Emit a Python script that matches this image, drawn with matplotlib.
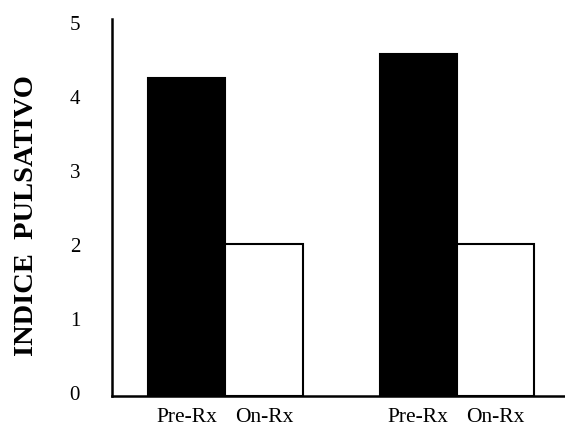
import matplotlib
matplotlib.use("Agg")
from matplotlib import pyplot as plt
from matplotlib import transforms as mtransforms

# datos
grupos = ['Pre-Rx', 'On-Rx', 'Pre-Rx', 'On-Rx']
posiciones = [1, 2, 4, 5]
indice_pulsativo = [4.30, 2.05, 4.62, 2.05]
colores = ['black', 'white', 'black', 'white']
yticks = [0, 1, 2, 3, 4, 5]

plt.rcParams['font.family'] = ['Liberation Serif', 'DejaVu Serif']

fig = plt.figure(figsize=(5.65, 4.31), dpi=100)
ax = fig.add_axes([112 / 565, 34 / 431, 453 / 565, 377.4 / 431])

ax.bar(posiciones, indice_pulsativo, width=1.0, color=colores,
       edgecolor='black', linewidth=1.5)

ax.set_xlim(0.03, 5.9)
ax.set_ylim(0, 5.1)

for s in ['top', 'right']:
    ax.spines[s].set_visible(False)
for s in ['left', 'bottom']:
    ax.spines[s].set_linewidth(1.8)

ax.set_xticks(posiciones)
ax.set_xticklabels(grupos, fontsize=15.5)
ax.set_yticks(yticks)
ax.set_yticklabels([str(v) for v in yticks], fontsize=15)
ax.tick_params(axis='x', length=0, pad=8)
ax.tick_params(axis='y', length=0, pad=23)

# etiquetas del eje y un poco mas arriba, como en el original
desplaza = mtransforms.ScaledTranslation(0, 4 / 100, fig.dpi_scale_trans)
for lab in ax.get_yticklabels():
    lab.set_transform(lab.get_transform() + desplaza)

fig.text(27 / 565, (431 - 216) / 431, 'INDICE  PULSATIVO', rotation=90,
         ha='center', va='center', fontsize=20.5, fontweight='bold')

fig.savefig('out.png', dpi=100)
